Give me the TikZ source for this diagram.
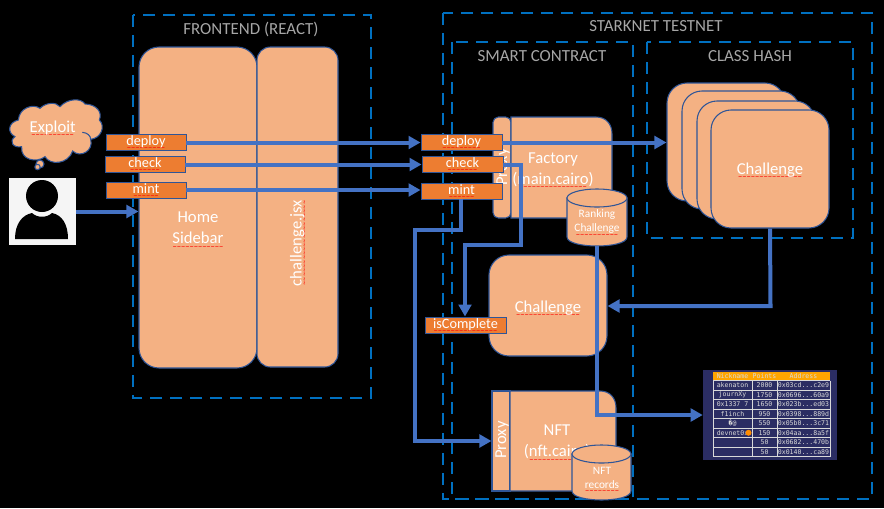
\documentclass[tikz,border=0pt]{standalone}
\usepackage{fontspec}
\setmainfont{Carlito}
\newfontfamily\sqf{DejaVu Sans}
\newfontfamily\tblf{DejaVu Sans Mono}
\usetikzlibrary{arrows.meta}
\definecolor{peach}{HTML}{F4B183}
\definecolor{edgeblue}{HTML}{2F5597}
\definecolor{flowblue}{HTML}{4472C4}
\definecolor{dashblue}{HTML}{0070C0}
\definecolor{lblorange}{HTML}{ED7D31}
\definecolor{titlegray}{HTML}{A6A6A6}
\definecolor{navy}{HTML}{2B2D63}
\definecolor{hdr}{HTML}{FFA500}
\newsavebox\sqbox
\newcommand\sq[1]{\sbox\sqbox{#1}\leavevmode\rlap{\hbox to \wd\sqbox{\color{red}\sqf\bfseries\fontsize{3.8}{3.8}\selectfont\cleaders\hbox{\raisebox{-3.1pt}{\char"7E}}\hfill}}\usebox\sqbox}
\newcommand\cellrow[4]{%
  \node[cell] (na#1) at (732.5,385.25+9.5*#1) {#2};
  \node[cell] (pt#1) at (764.5,385.25+9.5*#1) {#3};
  \node[cell] (ad#1) at (803.5,385.25+9.5*#1) {#4};
}
\tikzset{
  x=.75pt,y=-.75pt,
  wh/.style 2 args={minimum width=#1*.75pt,minimum height=#2*.75pt,inner sep=0pt},
  peachbox/.style={draw=edgeblue,fill=peach,line width=.8pt},
  rbox/.style={peachbox,rounded corners=15pt},
  lbl/.style={draw=edgeblue,fill=lblorange,line width=.7pt,text=white,text height=7.2pt,text depth=2.2pt,font=\fontsize{10.7}{13}\selectfont},
  dashbox/.style={draw=dashblue,line width=2pt,dash pattern=on 9pt off 6pt},
  flow/.style={draw=flowblue,line width=3pt,-{Triangle[length=9pt,width=9.5pt]}},
  ttl/.style={text=titlegray,font=\fontsize{12.7}{14}\selectfont},
  wtxt/.style={text=white,align=center,font=\fontsize{12.5}{16}\selectfont},
  smalltxt/.style={text=white,align=center,font=\fontsize{8.5}{10.5}\selectfont},
  cell/.style={text=white!85!black,font=\tblf\fontsize{4.9}{5}\selectfont,inner sep=0pt},
  gridline/.style={draw=white!85!black,line width=.45pt},
}
\begin{document}
\begin{tikzpicture}
\useasboundingbox[fill=black] (0,0) rectangle (884,508);

% dashed regions
\draw[dashbox] (133,15) rectangle (371,398);
\draw[dashbox] (443,13) rectangle (872,499);
\draw[dashbox] (452,42) rectangle (633,499);
\draw[dashbox] (647,42) rectangle (853,238);
\node[ttl] (tfront) at (251,29.5) {FRONTEND (REACT)};
\node[ttl] (tstark) at (656,26.5) {STARKNET TESTNET};
\node[ttl] (tsmart) at (542,56.5) {SMART CONTRACT};
\node[ttl] (tclass) at (750,56.5) {CLASS HASH};

% thought cloud (coordinates in thirds of a pixel, from y=95)
\begin{scope}[x=.25pt,y=-.25pt,yshift=-71.25pt]
\draw[peachbox] (45,125) .. controls (20,112) and (25,82) .. (55,75)
  .. controls (58,38) and (100,25) .. (120,40)
  .. controls (138,22) and (168,20) .. (180,35)
  .. controls (205,8) and (245,10) .. (255,27)
  .. controls (290,28) and (308,52) .. (298,75)
  .. controls (318,95) and (302,130) .. (272,133)
  .. controls (282,168) and (240,190) .. (218,168)
  .. controls (205,208) and (150,212) .. (135,185)
  .. controls (110,205) and (60,195) .. (65,155)
  .. controls (40,160) and (25,140) .. (45,125) -- cycle;
\draw[edgeblue,line width=.8pt] (247,112) .. controls (262,113) and (272,122) .. (272,133);
\end{scope}
\node[wtxt] (exploit) at (52.7,129) {\sq{Exploit}};
\node[circle,peachbox,minimum size=6pt,inner sep=0pt] (bub1) at (40,164) {};
\node[circle,peachbox,minimum size=4pt,inner sep=0pt] (bub2) at (37.5,167) {};

% user
\node[fill=white!96!black,wh={67}{67}] (user) at (42.5,211.5) {};
\fill[black] (42,196) circle[radius=16];
\fill[black] (15,239) .. controls (15,224) and (22,215) .. (32,213) .. controls (37,218) and (47,218) .. (52,213) .. controls (62,215) and (68,224) .. (68,239) -- cycle;

% frontend columns
\node[rbox,wh={118}{321}] (home) at (198,207.5) {};
\node[wtxt] (hometxt) at (198,230) {Home\\\sq{Sidebar}};
\node[rbox,rounded corners=10pt,wh={81}{320}] (jsx) at (297.5,207) {};
\node[wtxt,rotate=90] (jsxtxt) at (298,243) {\sq{challenge.jsx}};

% factory
\draw[peachbox,rounded corners=4pt] (511,117) -- (493,117) -- (493,218) -- (511,218) -- cycle;
\draw[peachbox] (511,117) -- (596,117) .. controls (606,117) and (612,124) .. (612,134) -- (612,218) -- (511,218) -- cycle;
\node[wtxt,rotate=90] (fproxytxt) at (503,167) {Proxy};
\node[wtxt] (facttxt) at (553,170.5) {Factory\\(\sq{main.cairo})};

% challenge instance
\node[rbox,wh={118}{101}] (chal) at (548,305.5) {};
\node[wtxt] (chaltxt) at (548,308.5) {\sq{Challenge}};

% NFT
\node[peachbox,wh={18}{100}] (nproxy) at (501,441) {};
\draw[peachbox] (510,391) -- (600,391) .. controls (610,391) and (616,398) .. (616,408) -- (616,491) -- (510,491) -- cycle;
\node[wtxt,rotate=90] (nproxytxt) at (502,440) {Proxy};
\node[wtxt] (nfttxt) at (557,443) {NFT\\(\sq{nft.cairo})};

% class stack
\node[rbox,wh={118}{118}] (c1) at (726,142) {};
\node[rbox,wh={118}{118}] (c2) at (741,150) {};
\node[rbox,wh={118}{118}] (c3) at (756,160) {};
\node[rbox,wh={118}{118}] (c4) at (770,169) {};
\node[wtxt] (c4txt) at (770,171) {\sq{Challenge}};

% labels
\node[lbl,wh={80}{16}] (ldeploy) at (146,142.5) {\sq{deploy}};
\node[lbl,wh={80}{16}] (lcheck) at (145,164.5) {\sq{check}};
\node[lbl,wh={80}{16}] (lmint) at (146,190) {\sq{mint}};
\node[lbl,wh={81}{16}] (rdeploy) at (461.5,142.5) {\sq{deploy}};
\node[lbl,wh={81}{16}] (rcheck) at (462.5,164.5) {\sq{check}};
\node[lbl,wh={81}{16}] (rmint) at (461.5,191) {\sq{mint}};
\node[lbl,wh={81}{16}] (iscomp) at (465.5,325) {\sq{isComplete}};

% connectors
\coordinate (userhome) at (home.west |- user.east);
\draw[flow] (user.east) -- (userhome);
\draw[flow] (ldeploy.east) -- (rdeploy.west);
\draw[flow] (lcheck.east) -- (rcheck.west);
\draw[flow] (lmint.east) -- (rmint.west |- lmint.east);
\draw[flow] (rdeploy.east) -- (c1.west |- rdeploy.east);
\coordinate (ck1) at (520.5,164.5);
\coordinate (ck2) at (520.5,244.5);
\coordinate (ck3) at (465,244.5);
\draw[flow] (rcheck.east) -- (ck1) -- (ck2) -- (ck3) -- (iscomp.north -| ck3);
\coordinate (mt1) at (461,229.5);
\coordinate (mt2) at (415,229.5);
\coordinate (mt3) at (415,441);
\draw[flow] (rmint.south -| mt1) -- (mt1) -- (mt2) -- (mt3) -- (nproxy.west |- mt3);
\coordinate (ch1) at (770.5,306);
\draw[flow] (c4.south) -- (ch1) -- (chal.east |- ch1);

% ranking cylinder
\coordinate (rkb) at (597,246);
\draw[peachbox] (567,198) -- (567,237) .. controls (567,249) and (627,249) .. (627,237) -- (627,198) -- cycle;
\draw[peachbox] (597,198) ellipse[x radius=30,y radius=9];
\node[smalltxt] (ranktxt) at (597,223) {Ranking\\\sq{Challenge}};

% nft cylinder
\draw[peachbox] (572,454) -- (572,491) .. controls (572,503) and (631,503) .. (631,491) -- (631,454) -- cycle;
\draw[peachbox] (601.5,454) ellipse[x radius=29.5,y radius=9];
\node[smalltxt] (nrectxt) at (602,479.5) {NFT\\\sq{records}};

% leaderboard
\node[fill=navy,wh={134}{90}] (board) at (770,415) {};
\coordinate (rk1) at (597,415);
\draw[flow] (rkb) -- (rk1) -- (board.west |- rk1);
\fill[hdr] (713,372) rectangle (830,380);
\node[text=black,cell] (h1) at (732.5,376) {Nickname};
\node[text=black,cell] (h2) at (764.5,376) {Points};
\node[text=black,cell] (h3) at (803.5,376) {Address};
\foreach \yy in {380.5,390,399.5,409,418.5,428,437.5,447,456.5}{
  \draw[gridline] (713,\yy) -- (830,\yy);
}
\foreach \xx in {713,752,777,830}{
  \draw[gridline] (\xx,380.5) -- (\xx,456.5);
}
\cellrow{0}{akenaton}{2000}{0x03cd...c2e9}
\cellrow{1}{journXy}{1750}{0x0696...60a9}
\cellrow{2}{0x1337 7}{1650}{0x023b...ed03}
\cellrow{3}{f1inch}{950}{0x0398...889d}
\cellrow{4}{\char"FFFD @}{550}{0x05b0...3c71}
\cellrow{5}{devnet0x\hspace{4pt}}{150}{0x04aa...8a5f}
\cellrow{6}{}{50}{0x0682...470b}
\cellrow{7}{}{50}{0x0140...ca89}
\fill[orange!90!yellow] (748.5,432.75) circle[radius=3];
\end{tikzpicture}
\end{document}
